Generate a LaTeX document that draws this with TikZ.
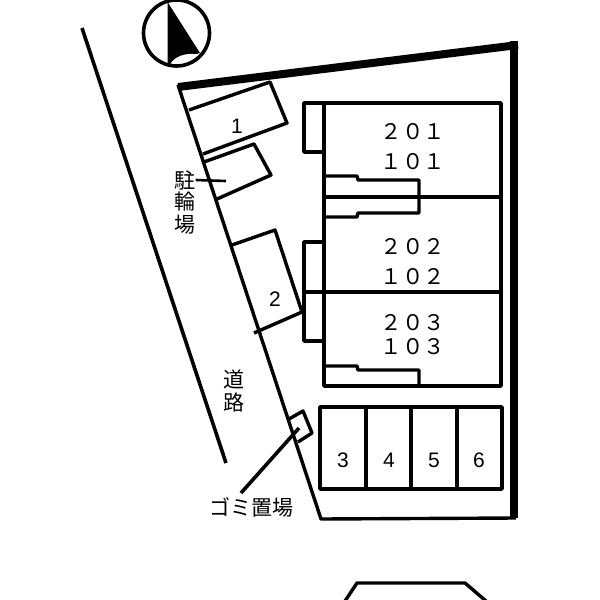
\documentclass[tikz,border=0pt]{standalone}
\usepackage{fontspec}
\setmainfont{Liberation Sans}
\newfontfamily\cjk{Noto Sans CJK JP}
\tikzset{
  wall/.style={line width=3.4pt,line join=round},
  num/.style={font=\fontsize{21}{21}\selectfont,inner sep=0pt},
  room/.style={font=\cjk\fontsize{21.5}{22}\selectfont,inner sep=0pt},
  jp/.style={font=\cjk\fontsize{21}{22}\selectfont,inner sep=0pt}
}
\begin{document}
\begin{tikzpicture}[x=1pt,y=-1pt]
\useasboundingbox (0,0) rectangle (600,600);
\fill[white] (0,0) rectangle (600,600);
% compass
\fill[black] (167.5,2) -- (200,53) .. controls (190,56) and (178,58) .. (170,64) -- (167.5,64) -- cycle;
\fill[white] (171,63) .. controls (176,55) and (190,52) .. (199,55) .. controls (192,63) and (180,67) .. (171,63) -- cycle;
\draw[line width=3.6pt] (176.5,33) circle (33);
% road line
\coordinate (roadA) at (82,28); \coordinate (roadB) at (226,463);
\draw[line width=3.6pt] (roadA) -- (roadB);
% site
\draw[wall] (178,85) -- (321,519) -- (516,518);
\draw[line width=8pt] (178,87) -- (518,45);
\draw[line width=8pt] (514,41) -- (514,518);
% parking 1, bike, parking 2
\draw[wall] (189,110) -- (270,82) -- (287,123) -- (203,154);
\draw[wall] (204,162) -- (254,144) -- (271,175) -- (217,199);
\draw[wall] (232,245) -- (275,230) -- (302,312) -- (254,333);
% building
\draw[wall] (324,103) -- (501,103) -- (501,386) -- (324,386) -- cycle;
\draw[wall] (324,103) -- (304,103) -- (304,152) -- (324,152);
\draw[wall] (324,242) -- (304,242) -- (304,341) -- (324,341);
\draw[wall] (324,197) -- (501,197);
\draw[wall] (304,292) -- (501,292);
\draw[wall] (324,176) -- (357,176) -- (358,180) -- (419,180) -- (419,213) -- (358,213) -- (357,217) -- (324,217);
\draw[wall] (324,366) -- (357,366) -- (358,370) -- (419,370) -- (419,386);
% parking 3-6
\draw[wall] (320,407) rectangle (502,489);
\draw[wall] (366,407) -- (366,489);
\draw[wall] (411,407) -- (411,489);
\draw[wall] (457,407) -- (457,489);
% garbage
\draw[wall] (289,419) -- (303,411) -- (312,433) -- (298,442);
% bottom shape
\draw[wall] (345,601) -- (357,583) -- (465,583) -- (486,601);
% labels
\node[num] (p1) at (237,126) {1};
\node[num] (p2) at (275,299) {2};
\node[num] (p3) at (343,460) {3};
\node[num] (p4) at (389,460) {4};
\node[num] (p5) at (434,460) {5};
\node[num] (p6) at (479,460) {6};
\node[room] (r201) at (413,132) {２０１};
\node[room] (r101) at (413,162) {１０１};
\node[room] (r202) at (413,247) {２０２};
\node[room] (r102) at (413,277) {１０２};
\node[room] (r203) at (413,323) {２０３};
\node[room] (r103) at (413,347) {１０３};
\node[jp] (bike1) at (185,180) {駐};
\node[jp] (bike2) at (185,202) {輪};
\node[jp] (bike3) at (185,225) {場};
\node[jp] (road1) at (234,379) {道};
\node[jp] (road2) at (234,402) {路};
\node[jp] (gomi) at (251,507) {ゴミ置場};
\coordinate (bikeEnd) at (226,181);
\coordinate (gomiEnd) at (299,428);
\draw[line width=2.6pt] (bike1.east) -- (bikeEnd);
\draw[line width=3.6pt] (gomiEnd) -- (241,493);
\end{tikzpicture}
\end{document}
